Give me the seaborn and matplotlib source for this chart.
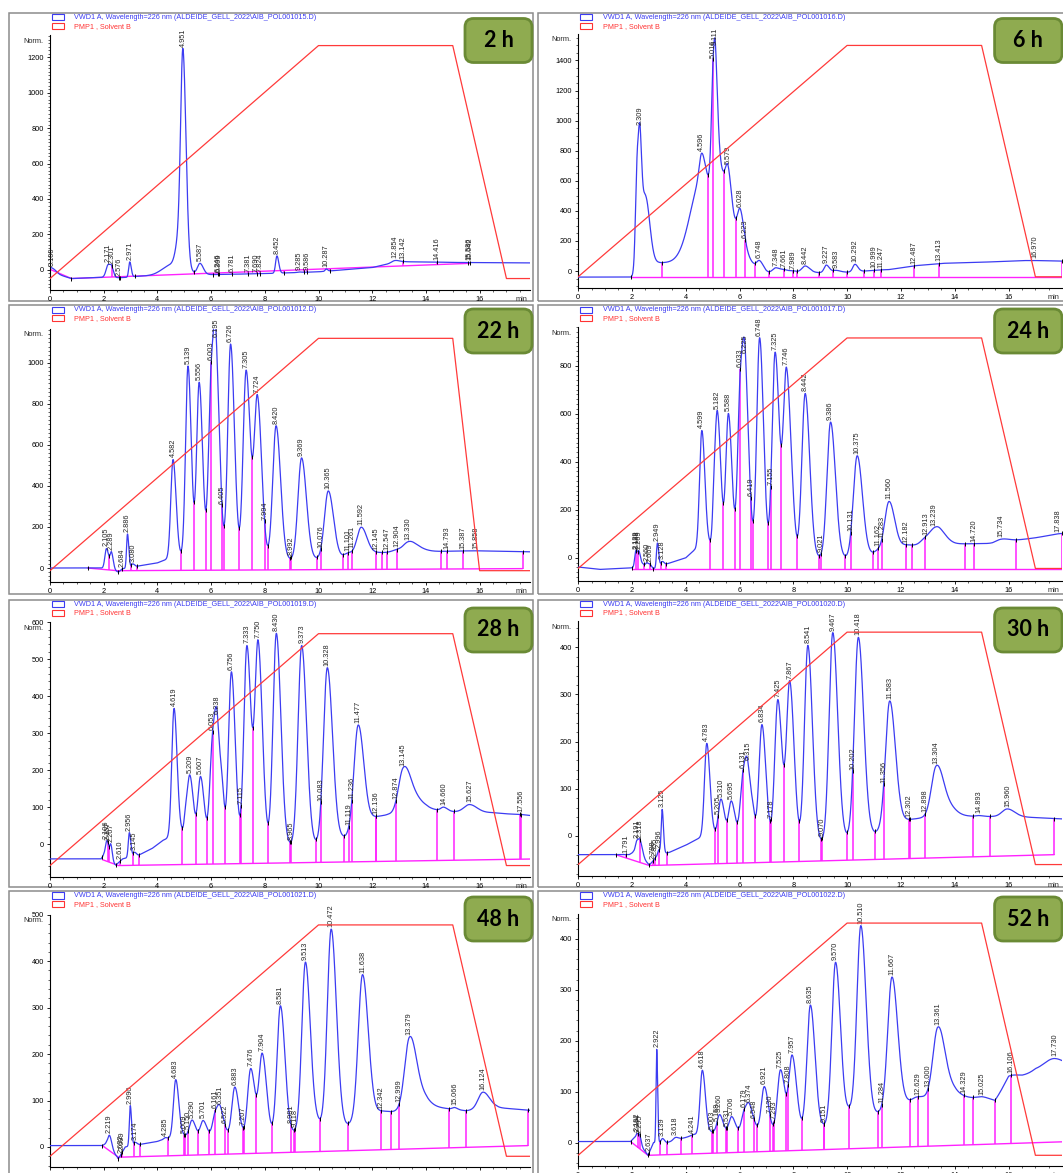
import numpy as np
import pandas as pd
import matplotlib
matplotlib.use("Agg")
import matplotlib.pyplot as plt
from matplotlib.patches import Rectangle, FancyBboxPatch
from matplotlib.ticker import MultipleLocator
import seaborn as sns

sns.set_theme(style="white")
plt.rcParams["font.family"] = ["Liberation Sans", "DejaVu Sans"]

# ------------------------------------------------------------------ data
# retention times of integrated peaks (min) and signal at each label (Norm.)
rt_2h = [0.100, 2.171, 2.301, 2.576, 2.971, 4.951, 5.587, 6.246, 6.309, 6.781, 7.381,
         7.690, 7.824, 8.452, 9.285, 9.586, 10.287, 12.854, 13.142, 14.416, 15.586, 15.642]
apex_2h = [8, 30, 22, -45, 44, 1250, 36, -27, -27, -26, -24,
           -23, -23, 78, -13, -15, 4, 52, 45, 43, 38, 38]
bg_t_2h = [0, 0.35, 0.8, 2.0, 2.6, 3.2, 4.0, 6.0, 8.0, 10.0, 12.0, 12.75, 13.2, 15.0, 18.3]
bg_v_2h = [2, -30, -50, -43, -47, -38, -32, -28, -22, -12, 12, 38, 45, 41, 38]
humps_2h = [(4.55, 0.35, 60), (4.8, 0.12, 150)]
width_2h = {0.100: 0.12, 2.171: 0.08, 2.301: 0.05, 4.951: 0.085, 5.587: 0.09,
            12.854: 0.12, 13.142: 0.10, 2.971: 0.04, 8.452: 0.05, 10.287: 0.04, 9.285: 0.06}
base_t_2h = [0.0, 0.8, 15.65]
base_v_2h = [2, -50, 36]

rt_6h = [2.309, 4.596, 5.016, 5.111, 5.579, 6.028, 6.223, 6.748, 7.348, 7.661, 7.989,
         8.442, 9.227, 9.583, 10.292, 10.999, 11.247, 12.487, 13.413, 16.970]
apex_6h = [956, 784, 1400, 1490, 699, 414, 200, 70, 22, 11, 2,
           34, 40, 5, 45, 5, 8, 35, 50, 70]
bg_t_6h = [0, 2.08, 2.2, 3.0, 4.0, 5.5, 6.5, 7.0, 9.8, 10.6, 11.5, 12.5, 13.5, 16.5, 18.3]
bg_v_6h = [-40, -40, 40, 55, 55, 45, 10, -10, -10, 0, 8, 35, 50, 68, 65]
humps_6h = [(2.21, 0.07, 720), (2.5, 0.12, 450), (4.6, 0.42, 560), (5.3, 0.22, 380), (5.95, 0.25, 150)]
width_6h = {2.309: 0.05, 4.596: 0.09, 5.016: 0.065, 5.111: 0.065, 12.487: 0.35, 13.413: 0.35,
            16.970: 0.5, 9.227: 0.08, 10.292: 0.08}
base_t_6h = [1.95, 18.0]
base_v_6h = [-40, -40]

rt_22h = [2.105, 2.289, 2.684, 2.886, 3.080, 4.582, 5.139, 5.556, 6.003, 6.195, 6.405,
          6.726, 7.305, 7.724, 7.994, 8.420, 8.992, 9.369, 10.076, 10.365, 11.101, 11.261,
          11.592, 12.145, 12.547, 12.904, 13.330, 14.793, 15.387, 15.858]
apex_22h = [95, 79, -5, 166, 20, 529, 985, 906, 1002, 1117, 219,
            1092, 965, 845, 145, 694, 42, 537, 74, 376, 74, 70,
            199, 79, 75, 90, 128, 80, 80, 84]
bg_t_22h = [0, 1.9, 2.45, 2.55, 2.75, 3.3, 4.0, 4.3, 5.0, 7.0, 9.0, 11.0, 12.0, 13.0, 14.0, 15.8, 18.3]
bg_v_22h = [0, 0, -15, -20, -5, 10, 25, 40, 60, 50, 40, 50, 70, 80, 80, 84, 78]
humps_22h = [(13.55, 0.25, 25)]
width_22h = {2.105: 0.06, 2.289: 0.05, 2.886: 0.035, 3.080: 0.05, 2.684: 0.05}
base_t_22h = [1.4, 2.5, 17.6]
base_v_22h = [0, -13, -3]

rt_24h = [2.139, 2.188, 2.269, 2.560, 2.669, 2.949, 3.128, 4.599, 5.182, 5.588, 6.033,
          6.225, 6.419, 6.748, 7.155, 7.325, 7.746, 8.442, 9.021, 9.386, 10.131, 10.375,
          11.162, 11.283, 11.560, 12.182, 12.913, 13.239, 14.720, 15.734, 17.838]
apex_24h = [28, 30, 28, -20, -25, 62, -15, 530, 611, 601, 786,
            842, 130, 916, 30, 856, 793, 684, 5, 565, 36, 425,
            40, 38, 235, 55, 88, 126, 58, 78, 100]
bg_t_24h = [0, 0.8, 1.95, 2.05, 2.4, 2.8, 3.3, 4.0, 4.3, 5.0, 6.5, 7.5, 9.0, 10.0, 11.0,
            12.0, 13.0, 14.0, 15.4, 16.0, 18.3]
bg_v_24h = [-38, -48, -42, -40, -25, -45, -25, 0, 30, 60, 20, 5, 0, 0, 15,
            40, 60, 58, 60, 70, 100]
humps_24h = [(5.05, 0.05, 120), (7.98, 0.08, 60), (13.45, 0.2, 40)]
width_24h = {2.139: 0.04, 2.188: 0.04, 2.269: 0.04, 2.560: 0.04, 2.669: 0.04, 2.949: 0.035,
             3.128: 0.05, 14.720: 0.2, 17.838: 0.4}
base_t_24h = [2.0, 18.0]
base_v_24h = [-48, -48]

rt_28h = [2.106, 2.157, 2.267, 2.610, 2.956, 3.145, 4.619, 5.209, 5.607, 6.053, 6.238,
          6.756, 7.115, 7.333, 7.750, 8.430, 8.965, 9.373, 10.083, 10.328, 11.119, 11.236,
          11.477, 12.136, 12.874, 13.145, 14.660, 15.627, 17.556]
apex_28h = [8, 5, 0, -52, 31, -22, 367, 187, 183, 302, 347,
            466, 0, 537, 552, 570, -3, 537, 20, 477, 35, 45,
            322, 75, 107, 206, 100, 107, 80]
bg_t_28h = [0, 1.9, 2.0, 2.45, 2.7, 3.3, 3.8, 4.2, 5.0, 6.5, 9.0, 10.0, 11.0, 12.0, 12.6,
            14.0, 15.0, 16.5, 18.3]
bg_v_28h = [-40, -40, -30, -57, -40, -30, -12, 10, 35, 5, -3, 0, 20, 65, 80,
            95, 88, 85, 74]
humps_28h = [(5.05, 0.05, 40), (6.42, 0.06, 60), (13.45, 0.25, 45)]
width_28h = {2.106: 0.05, 2.157: 0.04, 2.267: 0.04, 2.956: 0.04, 3.145: 0.05,
             12.874: 0.12, 14.660: 0.1, 15.627: 0.2}
base_t_28h = [1.95, 2.55, 18.2]
base_v_28h = [-42, -58, -40]

rt_30h = [1.791, 2.191, 2.318, 2.788, 2.855, 2.996, 3.125, 4.783, 5.205, 5.310, 5.695,
          6.131, 6.315, 6.834, 7.178, 7.425, 7.867, 8.541, 9.070, 9.467, 10.202, 10.418,
          11.356, 11.583, 12.302, 12.898, 13.304, 14.893, 15.960]
apex_30h = [-40, -9, -10, -55, -48, -30, 56, 196, 40, 78, 74,
            139, 156, 236, -12, 289, 329, 404, -13, 431, 5, 421,
            25, 286, 35, 46, 148, 43, 57]
bg_t_30h = [0, 1.9, 2.05, 2.45, 2.65, 3.0, 3.4, 4.0, 4.5, 5.0, 6.5, 7.5, 9.0, 10.0, 11.0,
            12.0, 13.0, 14.0, 16.5, 18.3]
bg_v_30h = [-40, -40, -35, -50, -62, -40, -35, -20, -5, 5, 0, -10, -15, -5, 5,
            30, 40, 42, 40, 35]
humps_30h = [(6.5, 0.06, 20), (13.6, 0.25, 30)]
width_30h = {1.791: 0.05, 2.191: 0.06, 2.318: 0.06, 2.788: 0.04, 2.855: 0.04, 2.996: 0.04,
             3.125: 0.035, 14.893: 0.1, 15.960: 0.2}
base_t_30h = [1.4, 2.65, 17.7]
base_v_30h = [-40, -63, -40]

rt_48h = [2.219, 2.632, 2.699, 2.990, 3.174, 4.285, 4.683, 5.009, 5.150, 5.290, 5.701,
          6.161, 6.351, 6.522, 6.883, 7.207, 7.476, 7.904, 8.581, 8.981, 9.118, 9.513,
          10.472, 11.638, 12.342, 12.999, 13.379, 15.066, 16.124]
apex_48h = [25, -22, -18, 89, 10, 20, 145, 25, 35, 58, 57,
            79, 87, 45, 129, 28, 169, 202, 304, 30, 32, 398,
            469, 371, 78, 88, 236, 85, 118]
bg_t_48h = [0, 1.95, 2.1, 2.55, 2.8, 3.3, 4.0, 4.3, 5.0, 7.0, 8.0, 9.0, 10.0, 11.0, 12.0,
            12.7, 14.0, 15.5, 16.6, 18.3]
bg_v_48h = [3, 3, 8, -25, 0, 5, 12, 18, 24, 25, 25, 30, 40, 45, 70,
            75, 88, 78, 85, 77]
humps_48h = [(9.95, 0.12, 12), (13.65, 0.25, 35)]
width_48h = {2.219: 0.06, 2.990: 0.035, 3.174: 0.05, 4.285: 0.05, 15.066: 0.08, 16.124: 0.18}
base_t_48h = [1.95, 2.55, 17.8]
base_v_48h = [3, -22, 3]

rt_52h = [2.192, 2.244, 2.295, 2.637, 2.922, 3.139, 3.618, 4.241, 4.618, 5.003, 5.158,
          5.260, 5.531, 5.706, 6.179, 6.374, 6.548, 6.921, 7.130, 7.293, 7.525, 7.808,
          7.957, 8.635, 9.151, 9.570, 10.510, 11.284, 11.667, 12.629, 13.000, 13.361,
          14.329, 15.025, 16.106, 17.730]
apex_52h = [18, 17, 15, -22, 183, 8, 10, 15, 142, 22, 38,
            55, 25, 51, 66, 76, 45, 110, 28, 25, 143, 30,
            172, 270, 30, 354, 426, 62, 325, 90, 90, 226,
            88, 90, 132, 165]
bg_t_52h = [0, 1.95, 2.1, 2.6, 2.8, 3.3, 4.0, 4.3, 5.0, 7.0, 8.0, 9.0, 10.0, 11.0, 12.0,
            12.5, 13.0, 14.0, 15.5, 16.0, 16.5, 17.0, 18.3]
bg_v_52h = [2, 2, 10, -25, 0, 0, 10, 15, 20, 22, 25, 30, 45, 55, 75,
            85, 88, 92, 82, 125, 130, 140, 135]
humps_52h = [(10.1, 0.12, 15), (13.6, 0.25, 30)]
width_52h = {2.192: 0.04, 2.244: 0.04, 2.295: 0.04, 2.922: 0.025, 3.139: 0.05, 3.618: 0.08,
             4.241: 0.06, 12.629: 0.15, 13.000: 0.10, 17.730: 0.4}
base_t_52h = [1.95, 2.6, 18.3]
base_v_52h = [2, -25, 2]

# solvent B programme (min, %B)
grad_t = [0, 10, 15, 17, 18.3]
grad_t_22h = [0, 10, 15, 16, 18.3]
grad_b = [5, 95, 95, 5, 5]

panel_names = ["2 h", "6 h", "22 h", "24 h", "28 h", "30 h", "48 h", "52 h"]
data_files = ["AIB_POL001015.D", "AIB_POL001016.D", "AIB_POL001012.D", "AIB_POL001017.D",
              "AIB_POL001019.D", "AIB_POL001020.D", "AIB_POL001021.D", "AIB_POL001022.D"]

runs = [
    (rt_2h, apex_2h, bg_t_2h, bg_v_2h, humps_2h, width_2h, base_t_2h, base_v_2h, None, grad_t),
    (rt_6h, apex_6h, bg_t_6h, bg_v_6h, humps_6h, width_6h, base_t_6h, base_v_6h, 17.98, grad_t),
    (rt_22h, apex_22h, bg_t_22h, bg_v_22h, humps_22h, width_22h, base_t_22h, base_v_22h, 17.6, grad_t_22h),
    (rt_24h, apex_24h, bg_t_24h, bg_v_24h, humps_24h, width_24h, base_t_24h, base_v_24h, 17.99, grad_t),
    (rt_28h, apex_28h, bg_t_28h, bg_v_28h, humps_28h, width_28h, base_t_28h, base_v_28h, 17.5, grad_t),
    (rt_30h, apex_30h, bg_t_30h, bg_v_30h, humps_30h, width_30h, base_t_30h, base_v_30h, 17.7, grad_t),
    (rt_48h, apex_48h, bg_t_48h, bg_v_48h, humps_48h, width_48h, base_t_48h, base_v_48h, 17.8, grad_t),
    (rt_52h, apex_52h, bg_t_52h, bg_v_52h, humps_52h, width_52h, base_t_52h, base_v_52h, None, grad_t),
]

# ------------------------------------------------------------------ layout (pixels)
W, H, DPI = 1063, 1173, 100
col_x = [(50.0, 530.0, 26.85), (578.1, 1062.0, 26.9)]        # spine x, right end, px per min
ax_rows = [(35.5, 290.0, -114.8, 1324, 200, 20), (33.7, 288.2, -113.8, 1578, 200, 50),
           (328.7, 582.2, -69.2, 1167, 200, 20), (326.9, 581.2, -97.0, 961, 200, 20),
           (622.0, 877.2, -89.5, 600.6, 100, 20), (621.3, 876.2, -85.7, 455, 100, 20),
           (914.7, 1167.2, -43.5, 500, 100, 20), (913.6, 1166.2, -46.4, 449.6, 100, 20)]
grad_levels = [(-50, 1267), (-38, 1500), (-13, 1120), (-44, 915),
               (-58, 569), (-61, 432), (-20, 478), (-25, 431)]
frame_top = [13.2, 305.5, 600.0, 891.4]
frame_bot = [300.5, 594.0, 886.5, 1190.0]
frame_x = [(9.1, 532.7), (537.7, 1070.0)]
box_top = [18.5, 309.0, 608.0, 897.0]
box_x = [(465.0, 532.0), (994.6, 1062.0)]

TRACE = "#3c3cf2"
MAGENTA = "#ff22ff"
RED = "#ff3a3a"
TXT = "#262626"
FS = 5.3

fig = plt.figure(figsize=(W / DPI, H / DPI), dpi=DPI)
fig.patch.set_facecolor("white")
inch = fig.dpi_scale_trans


def px(x, y):
    return x / DPI, (H - y) / DPI


def bigauss(t, c, s, tail=1.35):
    z = np.where(t < c, (t - c) / s, (t - c) / (s * tail))
    return np.exp(-0.5 * z * z)


t = np.arange(0.0, 18.3, 0.002)

for k, (rts, apex, bgt, bgv, humps, wdict, bt, bv, t_end, gt) in enumerate(runs):
    row, col = divmod(k, 2)
    sx, ex, ppm = col_x[col]
    top, bot, ylo, yhi, major, minor = ax_rows[k]
    ax = fig.add_axes([sx / W, 1 - bot / H, (ex - sx) / W, (bot - top) / H])
    ax.patch.set_alpha(0)

    rts_a = np.asarray(rts, float)
    sig = np.array([wdict.get(r, 0.035 + 0.0105 * r) for r in rts])
    bg_fun = lambda x: np.interp(x, bgt, bgv)
    hump_fun = lambda x: sum(h * bigauss(x, c, s) for c, s, h in humps) if humps else 0 * x

    # peak amplitudes so that the trace passes through each labelled value
    target = np.asarray(apex, float) - bg_fun(rts_a) - hump_fun(rts_a)
    M = np.array([[bigauss(r, c, s) for c, s in zip(rts_a, sig)] for r in rts_a])
    active = np.ones(len(rts_a), bool)
    amp = np.zeros(len(rts_a))
    for _ in range(len(rts_a)):
        idx = np.where(active)[0]
        sol = np.linalg.lstsq(M[np.ix_(idx, idx)], target[idx], rcond=None)[0]
        if (sol >= 0).all():
            amp[idx] = sol
            break
        active[idx[np.argmin(sol)]] = False

    signal = bg_fun(t) + hump_fun(t)
    for a, c, s in zip(amp, rts_a, sig):
        signal = signal + a * bigauss(t, c, s)
    df = pd.DataFrame({"time": t, "signal": signal})
    curve = lambda x: np.interp(x, t, signal)
    base = lambda x: np.interp(x, bt, bv)

    # integration baseline and peak drop lines
    drops = []
    for a_, b_ in zip(rts_a[:-1], rts_a[1:]):
        m = (t > a_) & (t < b_)
        if m.any():
            drops.append(t[m][np.argmin(signal[m])])
    if t_end is not None:
        drops.append(t_end)
    drops = np.array([d for d in drops if bt[0] <= d <= bt[-1]])
    ax.plot(bt, bv, color=MAGENTA, lw=1.0, zorder=2)
    ax.vlines(drops, base(drops), curve(drops), colors=MAGENTA, lw=1.1, zorder=2)

    sns.lineplot(data=df, x="time", y="signal", ax=ax, color=TRACE, lw=0.9,
                 estimator=None, sort=False, zorder=3)
    ax.plot(np.r_[bt[0], drops], curve(np.r_[bt[0], drops]), ls="none", marker="|",
            ms=3.5, mew=0.7, color="black", zorder=4)

    for r in rts_a:
        ax.annotate(f"{r:.3f}", xy=(r, curve(r)), xytext=(0, 1.5), textcoords="offset points",
                    rotation=90, ha="center", va="bottom", fontsize=FS, color=TXT,
                    annotation_clip=False, zorder=5)

    ax.set_xlim(0, (ex - sx) / ppm)
    ax.set_ylim(ylo, yhi)
    ax.xaxis.set_major_locator(MultipleLocator(2))
    ax.xaxis.set_minor_locator(MultipleLocator(0.5))
    ax.yaxis.set_major_locator(MultipleLocator(major))
    ax.yaxis.set_minor_locator(MultipleLocator(minor))
    ax.tick_params(axis="both", which="major", labelsize=FS, length=2.5, width=0.6,
                   pad=1.8, colors="black", direction="out")
    ax.tick_params(axis="both", which="minor", length=1.4, width=0.5, direction="out")
    ax.tick_params(axis="x", which="both", bottom=True)
    ax.tick_params(axis="y", which="both", left=True)
    for s_ in ("top", "right"):
        ax.spines[s_].set_visible(False)
    for s_ in ("left", "bottom"):
        ax.spines[s_].set_color("black")
        ax.spines[s_].set_linewidth(0.8)
    ax.set_xlabel("")
    ax.set_ylabel("")
    ax.annotate("Norm.", xy=(0, 1), xycoords="axes fraction", xytext=(-4.5, -2),
                textcoords="offset points", ha="right", va="top", fontsize=FS, color=TXT)
    ax.annotate("min", xy=(1, 0), xycoords="axes fraction", xytext=(-2, -4.3),
                textcoords="offset points", ha="right", va="top", fontsize=FS, color=TXT)

    # solvent B programme on its own hidden scale
    lo, hi = grad_levels[k]
    slope = (hi - lo) / (grad_b[1] - grad_b[0])
    tw = ax.twinx()
    tw.plot(gt, grad_b, color=RED, lw=0.9, zorder=3)
    tw.set_ylim(grad_b[0] - (lo - ylo) / slope, grad_b[0] + (yhi - lo) / slope)
    tw.set_xlim(ax.get_xlim())
    tw.set_axis_off()

    # legend block
    ly = frame_top[row] + 1.0
    for j, (clr, txt) in enumerate([(TRACE, "VWD1 A, Wavelength=226 nm (ALDEIDE_GELL_2022\\"
                                      + data_files[k] + ")"),
                                     ("#ff3333", "PMP1 , Solvent B")]):
        y0 = ly + j * 8.7
        x0, y1 = px(sx + 1.7, y0 + 6.2)
        fig.add_artist(Rectangle((x0, y1), 12.5 / DPI, 6.2 / DPI, transform=inch,
                                 fill=False, ec=clr, lw=0.8))
        tx, tyy = px(sx + 24.5, y0 + 3.3)
        fig.text(tx, tyy, txt, transform=inch, fontsize=5.25, color=clr, ha="left",
                 va="center")

# panel frames and time labels
for k in range(8):
    row, col = divmod(k, 2)
    fx0, fx1 = frame_x[col]
    x0, y0 = px(fx0, frame_bot[row])
    fig.add_artist(Rectangle((x0, y0), (fx1 - fx0) / DPI, (frame_bot[row] - frame_top[row]) / DPI,
                             transform=inch, fill=False, ec="#8c8c8c", lw=1.1, zorder=0))
    bx0, bx1 = box_x[col]
    bx, by = px(bx0, box_top[row] + 44)
    fig.add_artist(FancyBboxPatch((bx, by), (bx1 - bx0) / DPI, 44 / DPI,
                                  boxstyle="round,pad=0,rounding_size=0.085", transform=inch,
                                  fc="#8fab50", ec="#6a8a35", lw=2.0, zorder=10))
    cx, cy = px((bx0 + bx1) / 2, box_top[row] + 22)
    fig.text(cx, cy, panel_names[k], transform=inch, ha="center", va="center",
             fontsize=15.5, fontweight="bold", color="black", family=["Lato", "DejaVu Sans"],
             zorder=11)

fig.savefig("out.png", dpi=DPI, facecolor="white")
